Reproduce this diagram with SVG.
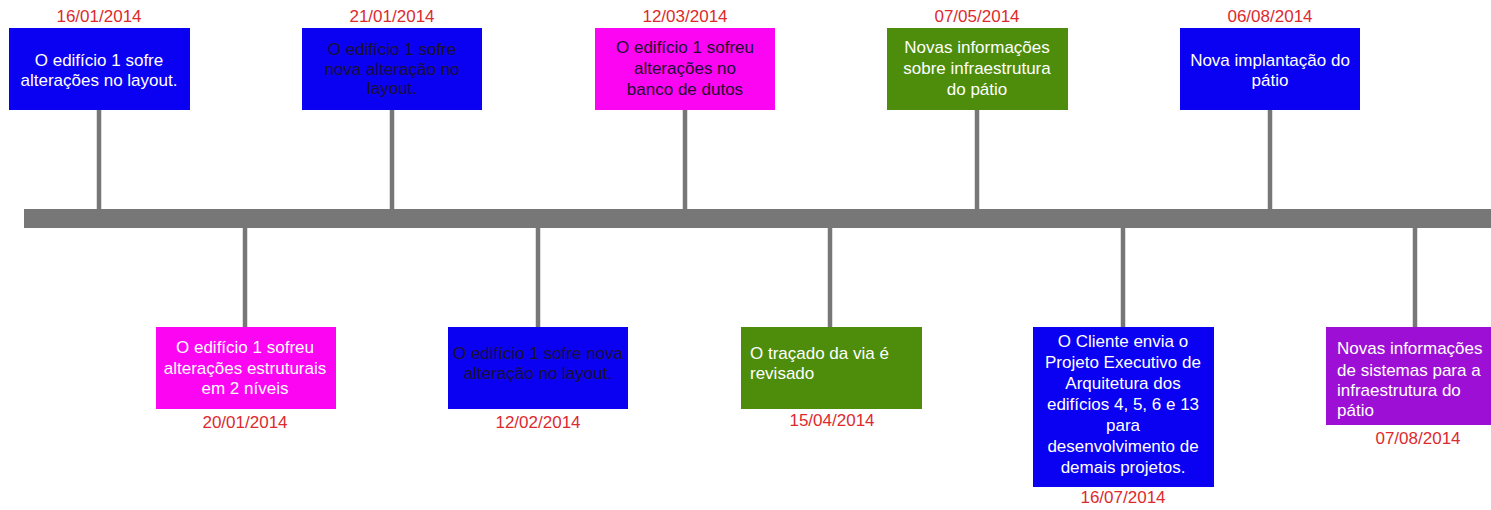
<svg xmlns="http://www.w3.org/2000/svg" width="1491" height="510" viewBox="0 0 1491 510">
  <style>
    text { font-family: "Liberation Sans", Arial, sans-serif; font-size: 17px; }
    .date { fill: #dc2a2e; text-anchor: middle; }
    .c { text-anchor: middle; }
    .l { text-anchor: start; }
    .w { fill: #ffffff; }
    .d { fill: #1c1030; }
    .stem { stroke: #777777; stroke-width: 4.5; fill: none; }
    .blue { fill: #0a00f2; }
    .pink { fill: #fb05f3; }
    .green { fill: #4d8d0b; }
    .purple { fill: #9d0fd4; }
  </style>

  <rect width="1491" height="510" fill="#ffffff"/>

  <!-- timeline axis and stems -->
  <g id="connectors">
    <rect x="24" y="209" width="1467" height="19" fill="#777777"/>
    <line class="stem" x1="99" y1="110" x2="99" y2="209"/>
    <line class="stem" x1="392" y1="110" x2="392" y2="209"/>
    <line class="stem" x1="685" y1="110" x2="685" y2="209"/>
    <line class="stem" x1="977" y1="110" x2="977" y2="209"/>
    <line class="stem" x1="1270" y1="110" x2="1270" y2="209"/>
    <line class="stem" x1="245" y1="228" x2="245" y2="327"/>
    <line class="stem" x1="538" y1="228" x2="538" y2="327"/>
    <line class="stem" x1="830" y1="228" x2="830" y2="327"/>
    <line class="stem" x1="1123" y1="228" x2="1123" y2="327"/>
    <line class="stem" x1="1415" y1="228" x2="1415" y2="327"/>
  </g>

  <!-- upper events -->
  <g id="e1">
    <text class="date" x="99" y="22">16/01/2014</text>
    <rect class="blue" x="9" y="28" width="181" height="82"/>
    <text class="c w" x="99" y="66">O edifício 1 sofre</text>
    <text class="c w" x="99" y="86">alterações no layout.</text>
  </g>

  <g id="e3">
    <text class="date" x="392" y="22">21/01/2014</text>
    <rect class="blue" x="302" y="28" width="180" height="82"/>
    <text class="c d" x="392" y="55">O edifício 1 sofre</text>
    <text class="c d" x="392" y="75">nova alteração no</text>
    <text class="c d" x="392" y="94">layout.</text>
  </g>

  <g id="e5">
    <text class="date" x="685" y="22">12/03/2014</text>
    <rect class="pink" x="595" y="28" width="180" height="82"/>
    <text class="c d" x="685" y="53">O edifício 1 sofreu</text>
    <text class="c d" x="685" y="74">alterações no</text>
    <text class="c d" x="685" y="95">banco de dutos</text>
  </g>

  <g id="e7">
    <text class="date" x="977" y="22">07/05/2014</text>
    <rect class="green" x="887" y="28" width="181" height="82"/>
    <text class="c w" x="977" y="53">Novas informações</text>
    <text class="c w" x="977" y="74">sobre infraestrutura</text>
    <text class="c w" x="977" y="95">do pátio</text>
  </g>

  <g id="e9">
    <text class="date" x="1270" y="22">06/08/2014</text>
    <rect class="blue" x="1180" y="28" width="180" height="82"/>
    <text class="c w" x="1270" y="66">Nova implantação do</text>
    <text class="c w" x="1270" y="86">pátio</text>
  </g>

  <!-- lower events -->
  <g id="e2">
    <rect class="pink" x="156" y="327" width="180" height="82"/>
    <text class="c w" x="245" y="353">O edifício 1 sofreu</text>
    <text class="c w" x="245" y="374">alterações estruturais</text>
    <text class="c w" x="245" y="394">em 2 níveis</text>
    <text class="date" x="245" y="428">20/01/2014</text>
  </g>

  <g id="e4">
    <rect class="blue" x="448" y="327" width="180" height="82"/>
    <text class="c d" x="538" y="359">O edifício 1 sofre nova</text>
    <text class="c d" x="538" y="379">alteração no layout.</text>
    <text class="date" x="538" y="428">12/02/2014</text>
  </g>

  <g id="e6">
    <rect class="green" x="741" y="327" width="181" height="82"/>
    <text class="l w" x="750" y="359">O traçado da via é</text>
    <text class="l w" x="750" y="379">revisado</text>
    <text class="date" x="832" y="426">15/04/2014</text>
  </g>

  <g id="e8">
    <rect class="blue" x="1033" y="327" width="181" height="160"/>
    <text class="c w" x="1123" y="347">O Cliente envia o</text>
    <text class="c w" x="1123" y="368">Projeto Executivo de</text>
    <text class="c w" x="1123" y="389">Arquitetura dos</text>
    <text class="c w" x="1123" y="410">edifícios 4, 5, 6 e 13</text>
    <text class="c w" x="1123" y="431">para</text>
    <text class="c w" x="1123" y="452">desenvolvimento de</text>
    <text class="c w" x="1123" y="473">demais projetos.</text>
    <text class="date" x="1123" y="503">16/07/2014</text>
  </g>

  <g id="e10">
    <rect class="purple" x="1326" y="327" width="165" height="98"/>
    <text class="l w" x="1337" y="354">Novas informações</text>
    <text class="l w" x="1337" y="376">de sistemas para a</text>
    <text class="l w" x="1337" y="396">infraestrutura do</text>
    <text class="l w" x="1337" y="416">pátio</text>
    <text class="date" x="1418" y="444">07/08/2014</text>
  </g>
</svg>
